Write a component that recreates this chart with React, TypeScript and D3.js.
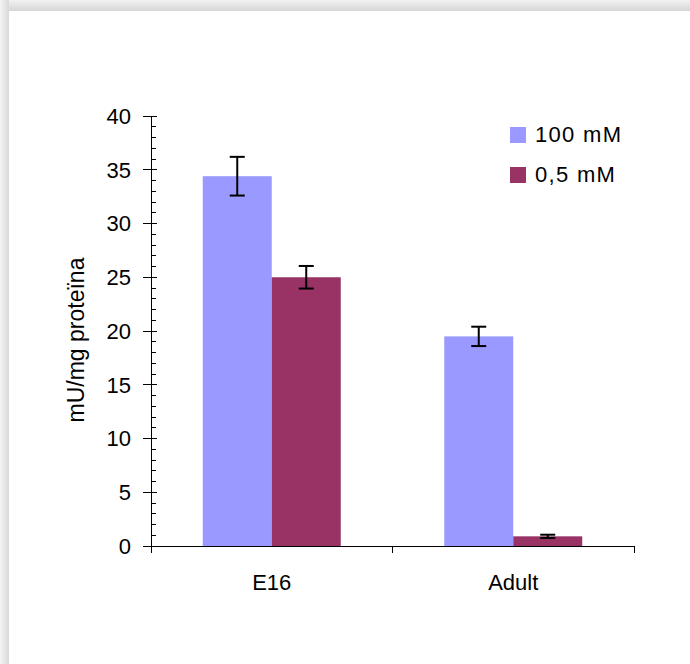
import React from 'react';
import * as d3 from 'd3';

// chart values
const categories = ['E16', 'Adult'];
const seriesNames = ['100 mM', '0,5 mM'];
const values100 = [34.4, 19.5];
const values05 = [25.0, 0.9];
const errors100 = [1.8, 0.9];
const errors05 = [1.05, 0.15];
const yTicks = [0, 5, 10, 15, 20, 25, 30, 35, 40];
const colors = ['#9999FF', '#993366'];

const W = 690;
const H = 664;
const FONT = 'Arial, "Liberation Sans", sans-serif';

export default function App() {
  const y = d3.scaleLinear().domain([0, 40]).range([546, 116]);
  const x0 = d3.scaleBand<string>().domain(categories).range([151, 634]);
  const x1 = d3
    .scaleBand<string>()
    .domain(seriesNames)
    .range([0, x0.bandwidth()])
    .paddingInner(0)
    .paddingOuter(0.75);

  const seriesValues = [values100, values05];
  const seriesErrors = [errors100, errors05];
  const minorTicks = d3.range(0, 41, 1).filter(v => v % 5 !== 0);

  return (
    <svg
      width={W}
      height={H}
      style={{ position: 'absolute', left: 0, top: 0, background: '#fff' }}
      fontFamily={FONT}
    >
      <defs>
        <linearGradient id="topShade" x1="0" y1="0" x2="0" y2="1">
          <stop offset="0" stopColor="#f2f2f2" />
          <stop offset="1" stopColor="#d6d6d6" />
        </linearGradient>
        <linearGradient id="leftShade" x1="0" y1="0" x2="1" y2="0">
          <stop offset="0" stopColor="#f4f4f4" />
          <stop offset="1" stopColor="#d9d9d9" />
        </linearGradient>
      </defs>

      {/* frame shadow */}
      <rect x={0} y={0} width={W} height={11} fill="url(#topShade)" />
      <rect x={0} y={0} width={9} height={H} fill="url(#leftShade)" />
      <rect x={9} y={11} width={W - 9} height={H - 11} fill="#fff" />

      {/* bars */}
      {seriesNames.map((s, si) =>
        categories.map((c, ci) => (
          <rect
            key={s + c}
            x={x0(c)! + x1(s)!}
            y={y(seriesValues[si][ci])}
            width={x1.bandwidth()}
            height={y(0) - y(seriesValues[si][ci])}
            fill={colors[si]}
          />
        ))
      )}

      {/* error bars */}
      {seriesNames.map((s, si) =>
        categories.map((c, ci) => {
          const cx = x0(c)! + x1(s)! + x1.bandwidth() / 2;
          const v = seriesValues[si][ci];
          const e = seriesErrors[si][ci];
          const hi = y(v + e);
          const lo = y(v - e);
          return (
            <g key={'e' + s + c} stroke="#000" strokeWidth={2}>
              <line x1={cx} x2={cx} y1={hi} y2={lo} />
              <line x1={cx - 7.5} x2={cx + 7.5} y1={hi} y2={hi} />
              <line x1={cx - 7.5} x2={cx + 7.5} y1={lo} y2={lo} />
            </g>
          );
        })
      )}

      {/* y axis */}
      <g stroke="#000" strokeWidth={1} shapeRendering="crispEdges">
        <line x1={151} x2={151} y1={y(40)} y2={y(0) + 1} />
        {yTicks.map(t => (
          <line key={'M' + t} x1={143} x2={157} y1={y(t)} y2={y(t)} />
        ))}
        {minorTicks.map(t => (
          <line key={'m' + t} x1={151} x2={156} y1={y(t)} y2={y(t)} />
        ))}
        {/* x axis */}
        <line x1={151} x2={634} y1={y(0)} y2={y(0)} />
        {[...categories.map(c => x0(c)!), 634].map((t, i) => (
          <line key={'xt' + i} x1={t} x2={t} y1={y(0)} y2={y(0) + 7} />
        ))}
      </g>

      {yTicks.map(t => (
        <text
          key={'l' + t}
          x={131}
          y={y(t)}
          dy="0.36em"
          textAnchor="end"
          fontSize={22}
          fill="#000"
        >
          {t}
        </text>
      ))}

      {categories.map(c => (
        <text
          key={'c' + c}
          x={x0(c)! + x0.bandwidth() / 2}
          y={590}
          textAnchor="middle"
          fontSize={22}
          fill="#000"
        >
          {c}
        </text>
      ))}

      <text
        transform={`translate(84,340) rotate(-90)`}
        textAnchor="middle"
        fontSize={23}
        fill="#000"
      >
        mU/mg proteïna
      </text>

      {/* legend */}
      {seriesNames.map((s, i) => (
        <g key={'lg' + s} transform={`translate(510,${127 + i * 40})`}>
          <rect width={16} height={16} fill={colors[i]} />
          <text x={25} y={15} fontSize={22} letterSpacing={1.3} fill="#000">
            {s}
          </text>
        </g>
      ))}
    </svg>
  );
}
